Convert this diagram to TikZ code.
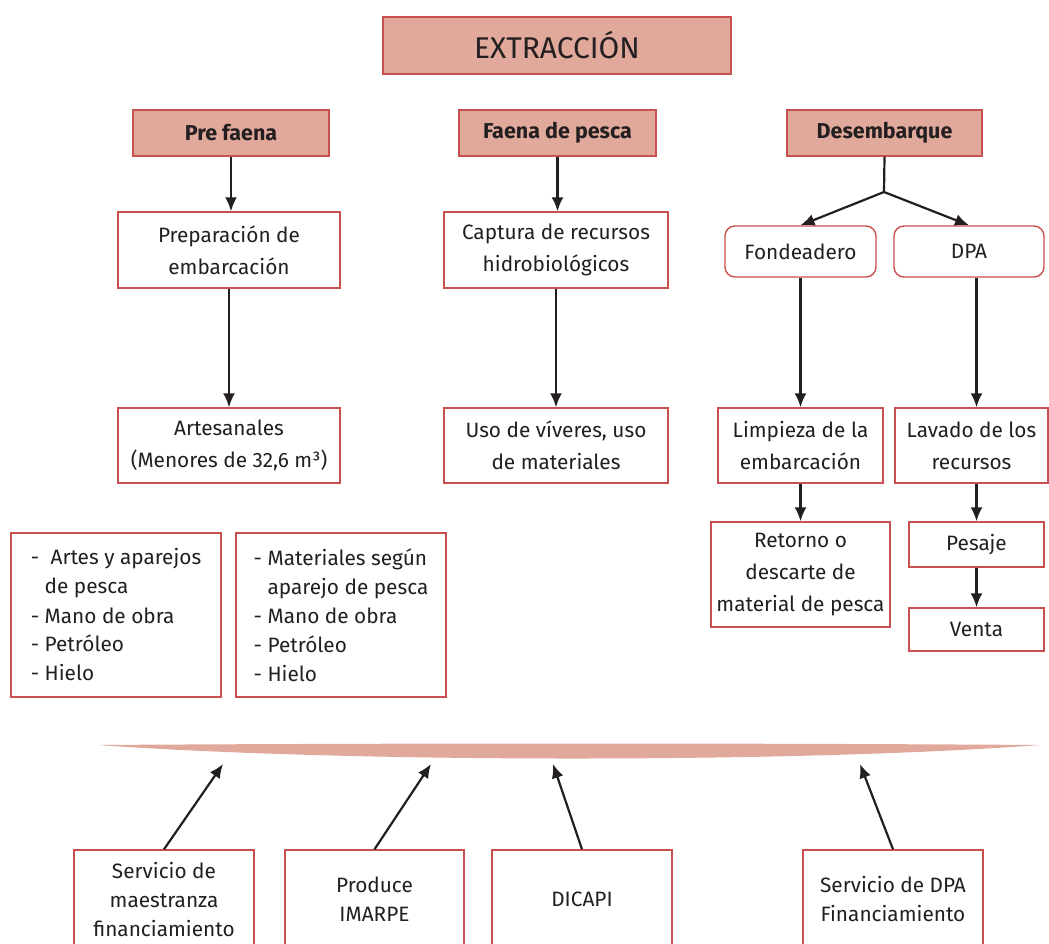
\documentclass[tikz,border=0pt]{standalone}
\usepackage{fontspec}
\setmainfont{Fira Sans}
\usetikzlibrary{arrows.meta}
\definecolor{salmon}{HTML}{E0A99B}
\definecolor{rojo}{HTML}{C8504E}
\definecolor{tinta}{HTML}{231F20}
\tikzset{
  caja/.style={draw=rojo, line width=1.4pt, fill=white, text=tinta, align=center,
    inner sep=0pt, font=\fontsize{20.8}{32}\selectfont},
  titulo/.style={caja, fill=salmon, font=\fontsize{21.5}{24}\selectfont\bfseries},
  lista/.style={caja, align=left, font=\fontsize{20.8}{29}\selectfont},
  abajo/.style={caja, font=\fontsize{20.8}{29}\selectfont},
  flecha/.style={draw=tinta, line width=2.2pt, -{Latex[length=14pt,width=12pt]}}
}
\begin{document}
\begin{tikzpicture}[x=1pt,y=-1pt]
  \useasboundingbox (0,0) rectangle (1049,943);
  \clip (0,0) rectangle (1049,943);

  % titulo y etapas
  \node [titulo, minimum width=348, minimum height=57, font=\fontsize{30}{32}\selectfont] (extraccion) at (557,45.5) {EXTRACCIÓN};
  \node [titulo, minimum width=196, minimum height=46] (prefaena) at (231,133) {Pre faena};
  \node [titulo, minimum width=197, minimum height=46] (faena) at (557.5,133) {Faena de pesca};
  \node [titulo, minimum width=195, minimum height=46] (desemb) at (884.5,133) {Desembarque};

  % pre faena
  \node [caja, minimum width=222, minimum height=76] (prep) at (229,250) {Preparación de\\embarcación};
  \node [caja, minimum width=222, minimum height=75] (artes) at (229,445.5) {Artesanales\\(Menores de 32,6 m³)};
    \draw [flecha] (prefaena.south) -- (prefaena.south |- prep.north);
    \draw [flecha] (prep.south) -- (prep.south |- artes.north);

  % faena de pesca
  \node [caja, minimum width=224, minimum height=76] (captura) at (556,250) {Captura de recursos\\hidrobiológicos};
  \node [caja, minimum width=224, minimum height=75] (uso) at (556,445.5) {Uso de víveres, uso\\de materiales};
    \draw [flecha] (faena.south) -- (faena.south |- captura.north);
    \draw [flecha] (captura.south) -- (uso.north);

  % desembarque
  \coordinate (split) at (884,192);
  \node [caja, rounded corners=10pt, minimum width=151, minimum height=51] (fondeadero) at (800.5,251.5) {Fondeadero};
  \node [caja, rounded corners=10pt, minimum width=150, minimum height=51] (dpa) at (969,251.5) {DPA};
  \node [caja, minimum width=165, minimum height=75] (limpieza) at (800.5,445.5) {Limpieza de la\\embarcación};
  \node [caja, minimum width=153, minimum height=75] (lavado) at (971.5,445.5) {Lavado de los\\recursos};
  \node [caja, minimum width=179, minimum height=105] (retorno) at (800.5,574.5) {Retorno o\\descarte de\\material de pesca};
  \node [caja, minimum width=135, minimum height=45] (pesaje) at (976.5,544.5) {Pesaje};
  \node [caja, minimum width=135, minimum height=43] (venta) at (976.5,629.5) {Venta};
    \draw [draw=tinta, line width=2.2pt] (desemb.south) -- (split);
    \draw [flecha] (split) -- (fondeadero.north);
    \draw [flecha] (split) -- (dpa.north);
    \draw [flecha] (fondeadero.south) -- (fondeadero.south |- limpieza.north);
    \draw [flecha] (dpa.south -| pesaje.north) -- (lavado.north -| pesaje.north);
    \draw [flecha] (limpieza.south) -- (limpieza.south |- retorno.north);
    \draw [flecha] (lavado.south -| pesaje.north) -- (pesaje.north);
    \draw [flecha] (pesaje.south) -- (venta.north);

  % insumos
  \node [lista, minimum width=210, minimum height=164] (listaA) at (116,615)
    {-\hspace{0.55em}Artes y aparejos\\\hphantom{-\ }de pesca\\- Mano de obra\\- Petróleo\\- Hielo};
  \node [lista, minimum width=210, minimum height=164] (listaB) at (341,615)
    {- Materiales según\\\hphantom{-\ }aparejo de pesca\\- Mano de obra\\- Petróleo\\- Hielo};

  % franja de servicios
  \fill [salmon] (98,745) .. controls (400,743) and (750,743) .. (1040,745)
    .. controls (800,763) and (350,763) .. cycle;
  \coordinate (lensA) at (223,764);
  \coordinate (lensB) at (431,764);
  \coordinate (lensC) at (553,764);
  \coordinate (lensD) at (860,764);

  \node [abajo, minimum width=180, minimum height=98] (maestranza) at (164,899) {Servicio de\\maestranza\\financiamiento};
  \node [abajo, minimum width=179, minimum height=98] (produce) at (374.5,899) {Produce\\IMARPE};
  \node [abajo, minimum width=180, minimum height=98] (dicapi) at (582,899) {DICAPI};
  \node [abajo, minimum width=180, minimum height=98] (servdpa) at (893,899) {Servicio de DPA\\Financiamiento};
    \draw [flecha] (maestranza.north) -- (lensA);
    \draw [flecha] (produce.north) -- (lensB);
    \draw [flecha] (dicapi.north) -- (lensC);
    \draw [flecha] (servdpa.north) -- (lensD);
\end{tikzpicture}
\end{document}
